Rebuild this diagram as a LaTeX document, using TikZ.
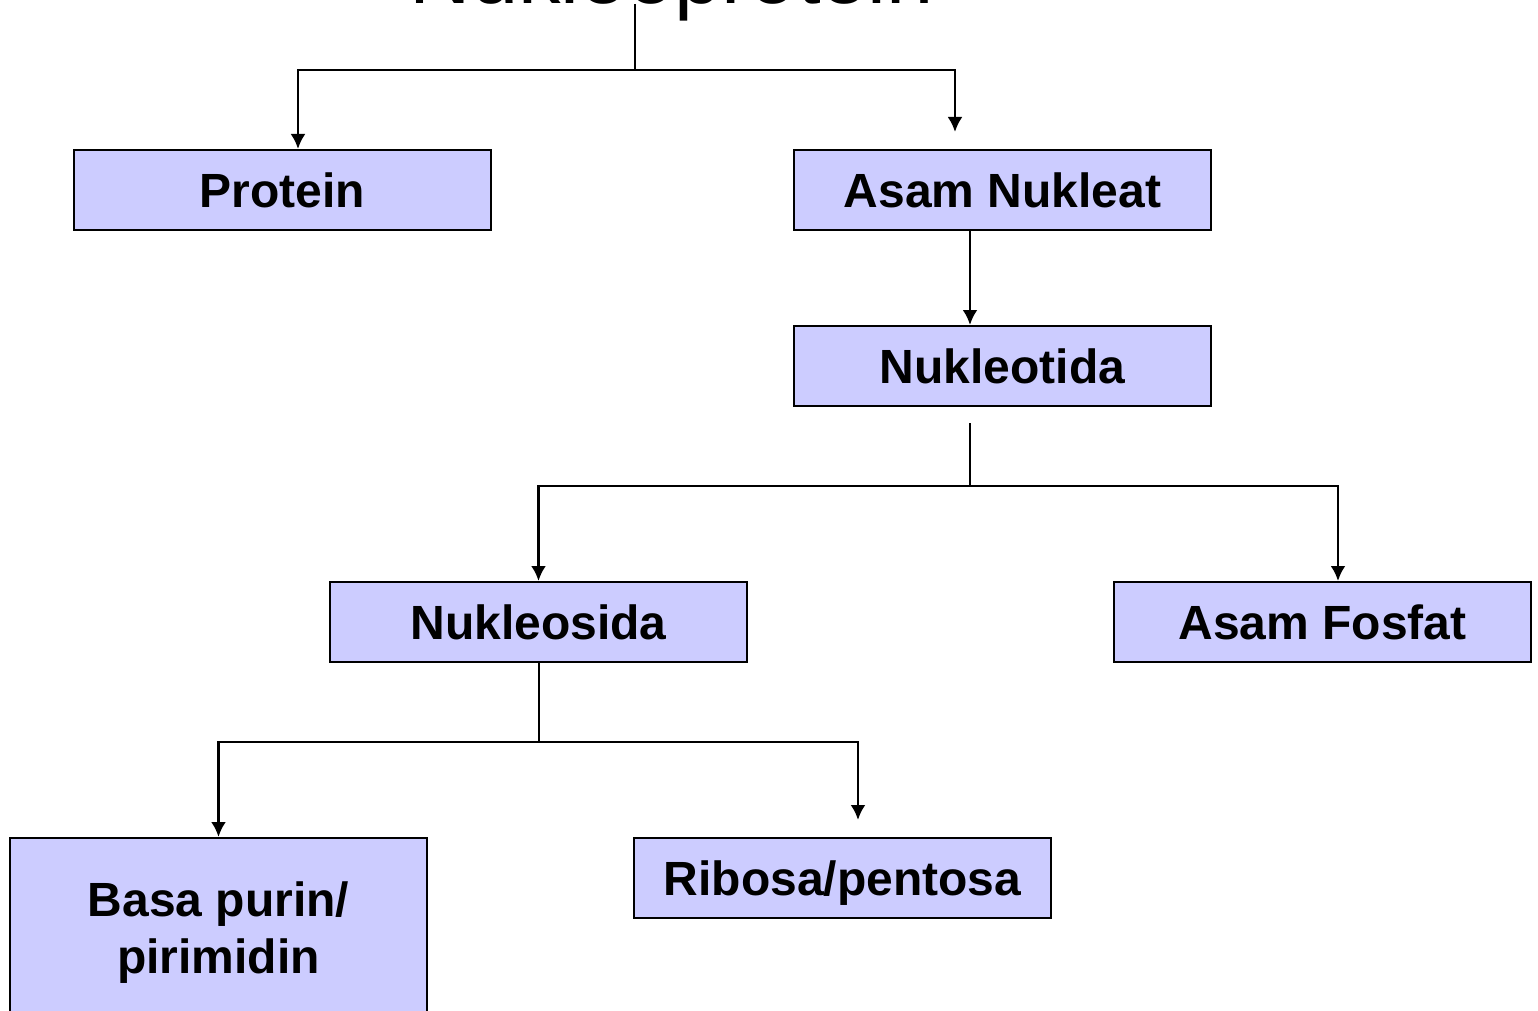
\documentclass[tikz,border=0pt]{standalone}
\usepackage{fontspec}
\setmainfont{Liberation Sans}
\usetikzlibrary{arrows.meta}
\definecolor{ungu}{RGB}{204,204,255}

\begin{document}
\begin{tikzpicture}[x=0.5pt,y=-0.5pt,line width=1.4pt,>={Latex[length=7.5pt,width=7.5pt]},
  kotak/.style={draw,line width=1pt,fill=ungu,minimum width=208.5pt,minimum height=40pt,
    inner sep=0pt,text depth=0pt,align=center,font=\bfseries\fontsize{24}{28.5}\selectfont}]
  \useasboundingbox (0,0) rectangle (1538,1011);
  % judul
  \node[anchor=base,inner sep=0pt,font=\fontsize{42.5}{50}\selectfont] (judul) at (672,4) {Nukleoprotein};
  % kotak
  \node[kotak] (protein) at (282.5,190) {Protein};
  \node[kotak] (asam) at (1002.5,190) {Asam Nukleat};
  \node[kotak] (nukleotida) at (1002.5,366) {Nukleotida};
  \node[kotak] (nukleosida) at (538.5,622) {Nukleosida};
  \node[kotak] (fosfat) at (1322.5,622) {Asam Fosfat};
  \node[kotak,minimum height=90pt] (basa) at (218.5,928) {Basa purin/\\pirimidin};
  \node[kotak] (ribosa) at (842.5,878) {Ribosa/pentosa};
  % cabang
  \coordinate (t1) at (635,70);
  \coordinate (t2) at (970,486);
  \coordinate (t3) at (539,742);
  \draw (judul.base -| t1) -- (t1);
  \draw[->] (t1) -| ([xshift=7.75pt]protein.north);
  \draw[->] (t1) -| ([xshift=-23.75pt,yshift=8.5pt]asam.north);
  \draw[->] ([xshift=-16.25pt]asam.south) -- ([xshift=-16.25pt]nukleotida.north);
  \draw ([xshift=-16.25pt,yshift=-8pt]nukleotida.south) -- (t2);
  \draw[->] (t2) -| (nukleosida.north);
  \draw[->] (t2) -| ([xshift=7.75pt]fosfat.north);
  \draw (nukleosida.south -| t3) -- (t3);
  \draw[->] (t3) -| (basa.north);
  \draw[->] (t3) -| ([xshift=7.75pt,yshift=8.5pt]ribosa.north);
\end{tikzpicture}
\end{document}
